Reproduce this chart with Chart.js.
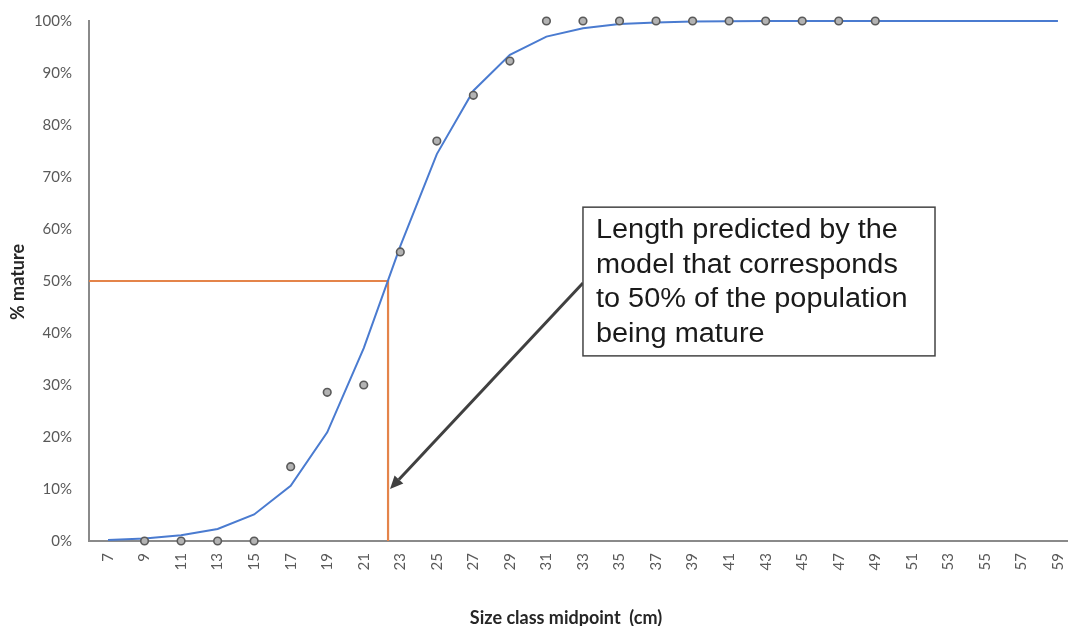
<!DOCTYPE html>
<html>
<head>
<meta charset="utf-8">
<script src="https://cdn.jsdelivr.net/npm/chart.js@4.4.1/dist/chart.umd.min.js"></script>
<style>
html,body{margin:0;padding:0;background:#fff;}
#wrap{width:1068px;height:626px;position:relative;}
</style>
</head>
<body>
<div id="wrap"><canvas id="c"></canvas></div>
<script>
// Size class midpoints (cm)
const sizeClasses = [7,9,11,13,15,17,19,21,23,25,27,29,31,33,35,37,39,41,43,45,47,49,51,53,55,57,59];
// Observed % mature (circles)
const observed = [null,0,0,0,0,14.3,28.6,30,55.6,76.9,85.7,92.3,100,100,100,100,100,100,100,100,100,100,null,null,null,null,null];
// Model-predicted % mature (blue line)
const predicted = [0.2,0.5,1.1,2.3,5.1,10.6,20.9,37.1,56.7,74.4,86.6,93.5,97.0,98.6,99.4,99.7,99.9,99.95,100,100,100,100,100,100,100,100,100];
// Length at 50% maturity (orange guide)
const l50 = 22.33;
const l50Pct = 50;
const yTicks = [0,10,20,30,40,50,60,70,80,90,100];
const annotationLines = ["Length predicted by the","model that corresponds","to 50% of the population","being mature"];

const xMin = 5.96, xMax = 59.55;

const overlay = {
  id: 'overlay',
  afterDatasetsDraw(chart) {
    const ctx = chart.ctx;
    const xs = chart.scales.x, ys = chart.scales.y;
    const bx1 = xs.getPixelForValue(33.0), bx2 = xs.getPixelForValue(52.27);
    const by1 = ys.getPixelForValue(64.2), by2 = ys.getPixelForValue(35.6);
    ctx.save();
    // arrow
    const sx = bx1, sy = ys.getPixelForValue(49.6);
    const tx = xs.getPixelForValue(l50) + 2, ty = ys.getPixelForValue(10);
    const ang = Math.atan2(ty - sy, tx - sx);
    const headLen = 13, headW = 6;
    const hx = tx - headLen * Math.cos(ang), hy = ty - headLen * Math.sin(ang);
    ctx.strokeStyle = '#404040';
    ctx.fillStyle = '#404040';
    ctx.lineWidth = 3;
    ctx.beginPath();
    ctx.moveTo(sx, sy);
    ctx.lineTo(hx, hy);
    ctx.stroke();
    ctx.beginPath();
    ctx.moveTo(tx, ty);
    ctx.lineTo(hx + headW * Math.sin(ang), hy - headW * Math.cos(ang));
    ctx.lineTo(hx - headW * Math.sin(ang), hy + headW * Math.cos(ang));
    ctx.closePath();
    ctx.fill();
    // box
    ctx.fillStyle = '#ffffff';
    ctx.fillRect(bx1, by1, bx2 - bx1, by2 - by1);
    ctx.strokeStyle = '#444444';
    ctx.lineWidth = 1.5;
    ctx.strokeRect(bx1, by1, bx2 - bx1, by2 - by1);
    ctx.fillStyle = '#1a1a1a';
    ctx.font = '27px "Liberation Sans", Arial, sans-serif';
    ctx.textAlign = 'left';
    ctx.textBaseline = 'alphabetic';
    annotationLines.forEach((t, i) => {
      ctx.save();
      ctx.translate(bx1 + 13, by1 + 31 + i * 34.5);
      ctx.scale(1.07, 1);
      ctx.fillText(t, 0, 0);
      ctx.restore();
    });
    ctx.restore();
  },
  afterDraw(chart) {
    const ctx = chart.ctx;
    ctx.save();
    ctx.fillStyle = '#262626';
    ctx.font = 'bold 18px Lato, "Open Sans", sans-serif';
    ctx.textAlign = 'center';
    ctx.textBaseline = 'middle';
    ctx.fillText('Size class midpoint  (cm)', 566, 618);
    ctx.translate(18, 282);
    ctx.rotate(-Math.PI / 2);
    ctx.fillText('% mature', 0, 0);
    ctx.restore();
  }
};

const obsData = sizeClasses.map((x, i) => ({x, y: observed[i]}));
const predData = sizeClasses.map((x, i) => ({x, y: predicted[i]}));
const guideData = [{x: xMin, y: l50Pct}, {x: l50, y: l50Pct}, {x: l50, y: 0}];

new Chart(document.getElementById('c'), {
  type: 'line',
  data: {
    datasets: [
      {
        label: 'L50',
        data: guideData,
        borderColor: '#E4844A',
        borderWidth: 2.2,
        pointRadius: 0,
        fill: false,
        tension: 0,
        clip: false,
        order: 3
      },
      {
        label: 'Predicted',
        data: predData,
        borderColor: '#4A7BD0',
        borderWidth: 2,
        pointRadius: 0,
        fill: false,
        tension: 0,
        clip: false,
        order: 2
      },
      {
        label: 'Observed',
        data: obsData,
        showLine: false,
        pointRadius: 3.8,
        pointBackgroundColor: '#b3b3b3',
        pointBorderColor: '#5a5a5a',
        pointBorderWidth: 1.6,
        clip: false,
        order: 1
      }
    ]
  },
  options: {
    responsive: true,
    maintainAspectRatio: false,
    animation: false,
    devicePixelRatio: 1,
    layout: { autoPadding: false, padding: { top: 21, right: 0, left: 0, bottom: 0 } },
    plugins: { legend: { display: false }, tooltip: { enabled: false } },
    scales: {
      x: {
        type: 'linear',
        min: xMin,
        max: xMax,
        afterFit(s) { s.height = 85; s.paddingRight = 0; s.paddingLeft = 0; },
        afterBuildTicks(s) { s.ticks = sizeClasses.map(v => ({value: v})); },
        grid: { display: false, drawTicks: false, tickLength: 0 },
        border: { display: true, color: '#8a8a8a', width: 2 },
        ticks: {
          autoSkip: false,
          maxRotation: 90,
          minRotation: 90,
          padding: 12,
          color: '#595959',
          font: { family: 'Lato, "Open Sans", sans-serif', size: 15 },
          callback: v => String(v)
        }
      },
      y: {
        min: 0,
        max: 100,
        afterFit(s) { s.width = 89; s.paddingTop = 0; s.paddingBottom = 0; },
        afterBuildTicks(s) { s.ticks = yTicks.map(v => ({value: v})); },
        grid: { display: false, drawTicks: false, tickLength: 0 },
        border: { display: true, color: '#8a8a8a', width: 2 },
        ticks: {
          padding: 17,
          color: '#595959',
          font: { family: 'Lato, "Open Sans", sans-serif', size: 15 },
          callback: v => v + '%'
        }
      }
    }
  },
  plugins: [overlay]
});
</script>
</body>
</html>
